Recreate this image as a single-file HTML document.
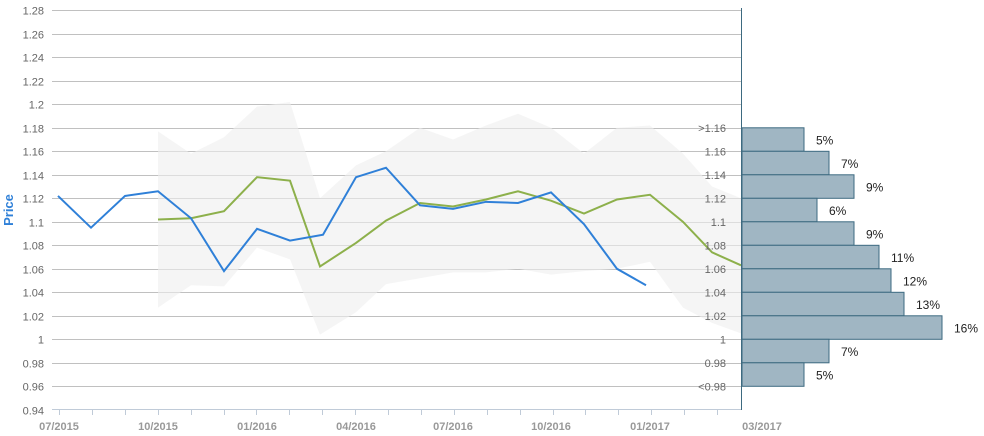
<!DOCTYPE html>
<html><head><meta charset="utf-8"><style>
html,body{margin:0;padding:0;background:#fff;}
svg{display:block;font-family:"Liberation Sans",Arial,sans-serif;}
</style></head><body>
<svg width="984" height="436" viewBox="0 0 984 436" xmlns="http://www.w3.org/2000/svg">
<g id="grid" stroke="#c0c0c0" stroke-width="1"></g>
<g id="ylab" font-size="11" fill="#666" text-anchor="end"></g>
<polygon id="band" fill="#eeeeee" fill-opacity="0.6"/>
<polyline id="green" fill="none" stroke="#8db04b" stroke-width="2"/>
<polyline id="blue" fill="none" stroke="#2f80d8" stroke-width="2"/>
<g id="hist"></g>
<line x1="741.5" y1="8" x2="741.5" y2="410" stroke="#3d6a80" stroke-width="1"/>
<line x1="52" y1="409.5" x2="741" y2="409.5" stroke="#c0cbd8" stroke-width="1"/>
<g id="xt" stroke="#c0cbd8"></g>
<g font-size="11" fill="#999" font-weight="bold" text-anchor="middle">
<text x="59" y="430">07/2015</text><text x="158" y="430">10/2015</text><text x="257" y="430">01/2016</text>
<text x="356" y="430">04/2016</text><text x="453" y="430">07/2016</text><text x="551" y="430">10/2016</text>
<text x="650" y="430">01/2017</text><text x="762" y="430">03/2017</text>
</g>
<text x="13" y="210" font-size="13" font-weight="bold" fill="#2f80d8" text-anchor="middle" transform="rotate(-90 13 210)">Price</text>
<script>
function y(v){return 104.3-(v-1.2)*1175;}
var ns="http://www.w3.org/2000/svg";
function el(p,t,a,txt){var e=document.createElementNS(ns,t);for(var k in a)e.setAttribute(k,a[k]);if(txt!=null)e.textContent=txt;document.getElementById(p).appendChild(e);}
for(var i=0;i<=17;i++){var v=0.94+i*0.02;var yy=Math.round(y(v))+0.5;
 if(i>0) el('grid','line',{x1:52,x2:741,y1:yy,y2:yy});
 el('ylab','text',{x:44,y:yy+4},(Math.round(v*100)/100).toString());}
for(var m=0;m<=21;m++){var x=Math.round(59+m*32.9)+0.5;if(x<742)el('xt','line',{x1:x,x2:x,y1:410,y2:415});}
var bx=[58,91,125,158,191,224,257,290,323,356,386,420,453,486,518,551,584,617,646];
var bv=[1.122,1.095,1.122,1.126,1.103,1.058,1.094,1.084,1.089,1.138,1.146,1.114,1.111,1.117,1.116,1.125,1.098,1.060,1.046];
document.getElementById('blue').setAttribute('points',bx.map((x,i)=>x+','+y(bv[i])).join(' '));
var gx=[158,191,224,257,290,320,356,386,420,453,486,518,551,584,617,650,683,712,741];
var gv=[1.102,1.103,1.109,1.138,1.135,1.062,1.082,1.101,1.116,1.113,1.119,1.126,1.118,1.107,1.119,1.123,1.100,1.074,1.063];
document.getElementById('green').setAttribute('points',gx.map((x,i)=>x+','+y(gv[i])).join(' '));
var up=[1.177,1.158,1.172,1.198,1.202,1.120,1.148,1.160,1.180,1.170,1.182,1.192,1.180,1.158,1.180,1.182,1.158,1.130,1.120];
var lo=[1.027,1.046,1.045,1.078,1.068,1.004,1.023,1.047,1.052,1.057,1.057,1.060,1.055,1.058,1.060,1.066,1.027,1.014,1.005];
var pts=gx.map((x,i)=>x+','+y(up[i]));for(var i=gx.length-1;i>=0;i--)pts.push(gx[i]+','+y(lo[i]));
document.getElementById('band').setAttribute('points',pts.join(' '));
var labs=['>1.16','1.16','1.14','1.12','1.1','1.08','1.06','1.04','1.02','1','0.98','<0.98'];
var right=[804,829,854,817,854,879,891,904,942,829,804];
var pc=['5%','7%','9%','6%','9%','11%','12%','13%','16%','7%','5%'];
for(var i=0;i<11;i++){var t=y(1.18-i*0.02),b=y(1.16-i*0.02);
 el('hist','rect',{x:742,y:t,width:right[i]-742,height:b-t,fill:'#a0b6c3',stroke:'#3d6a80','stroke-width':1});
 el('hist','text',{x:right[i]+12,y:(t+b)/2+5,'font-size':12,fill:'#222'},pc[i]);}
for(var i=0;i<12;i++){var t=y(1.18-i*0.02);el('hist','text',{x:726,y:t+4,'font-size':11,fill:'#666','text-anchor':'end'},labs[i]);}
</script>
</svg>
</body></html>
